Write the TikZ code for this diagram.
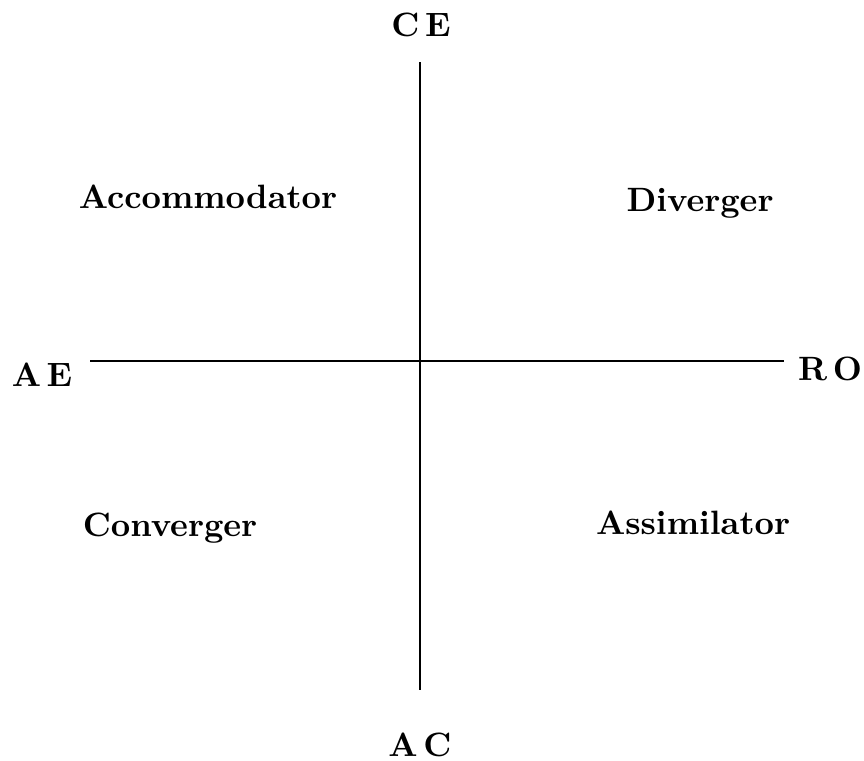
\documentclass[tikz,border=0pt]{standalone}
\usepackage{tikz}

\begin{document}
\begin{tikzpicture}[x=0.01cm, y=-0.01cm, every node/.style={font=\fontsize{9.6}{11}\selectfont\bfseries}]
  \useasboundingbox (0,0) rectangle (864,760);
  % axes
  \coordinate (top) at (420,62);
  \coordinate (bottom) at (420,690);
  \coordinate (left) at (90,361);
  \coordinate (right) at (784,361);
  \draw[line width=0.75pt] (top) -- (bottom);
  \draw[line width=0.75pt] (left) -- (right);
  % axis labels
  \node (ce) at (421,25) {C\,E};
  \node (ac) at (420,745) {A\,C};
  \node (ae) at (42,375) {A\,E};
  \node (ro) at (830,369) {R\,O};
  % quadrants
  \node (accom) at (208,197) {Accommodator};
  \node (diver) at (700,203) {Diverger};
  \node (conver) at (170,528) {Converger};
  \node (assim) at (693,523) {Assimilator};
\end{tikzpicture}
\end{document}
